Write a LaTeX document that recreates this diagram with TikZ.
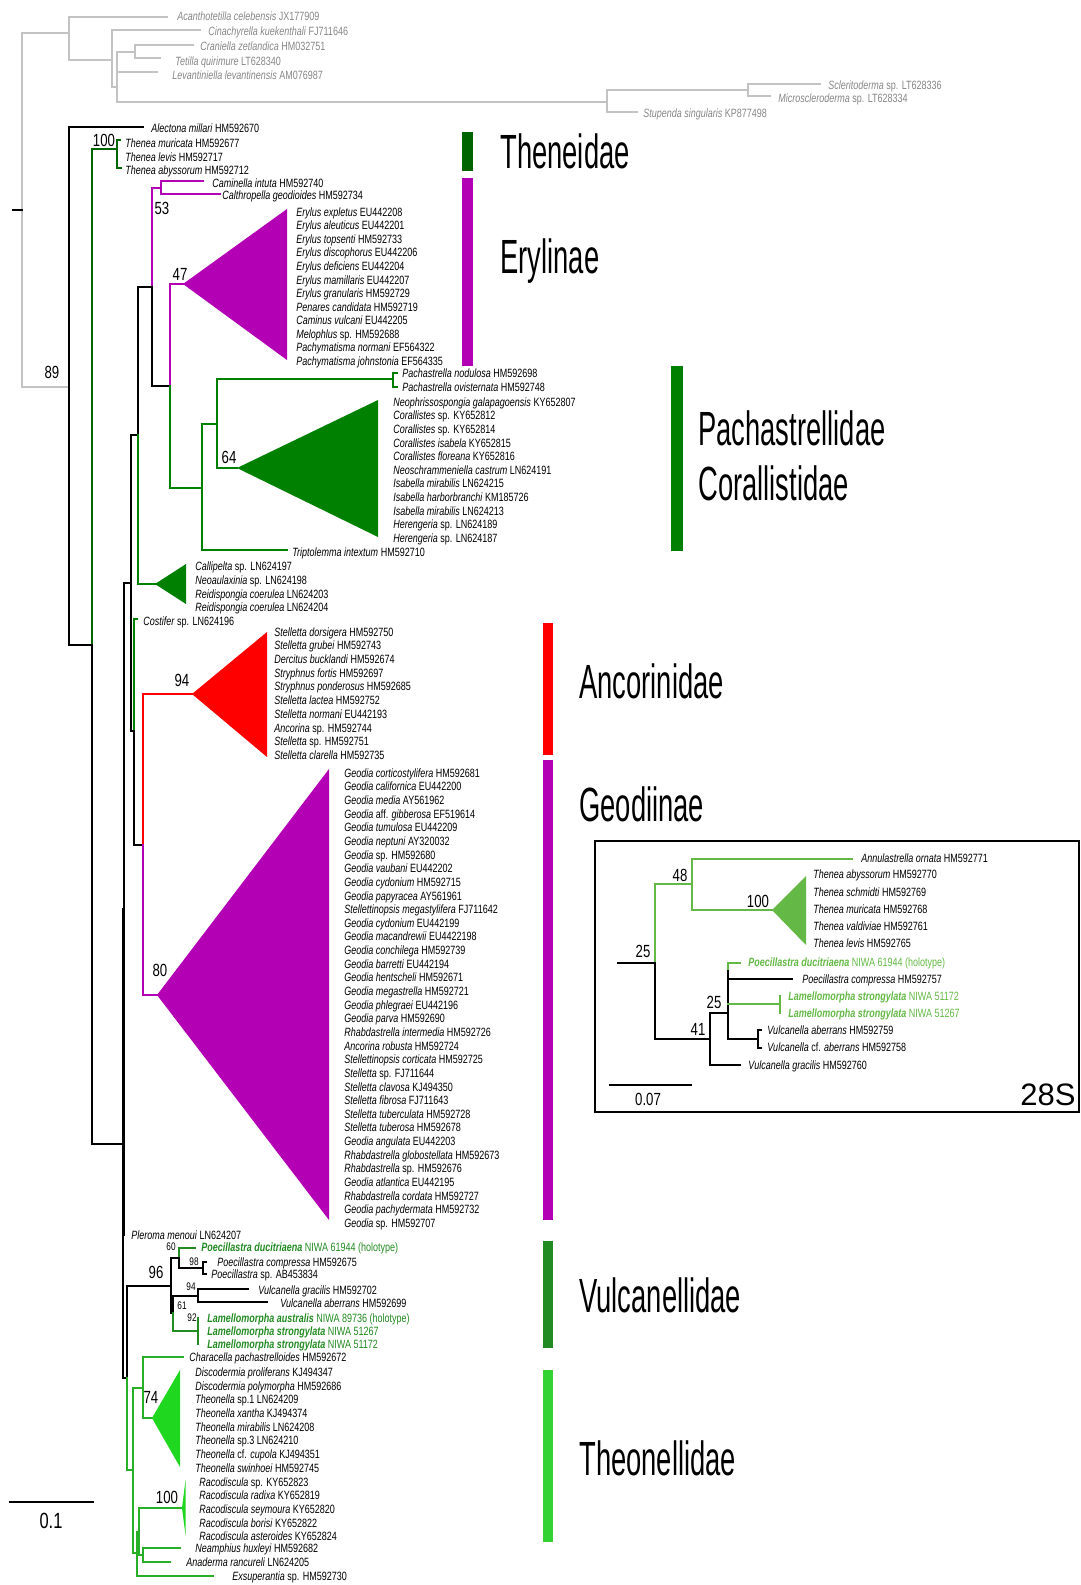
\documentclass[tikz,border=0pt]{standalone}
\usepackage{fontspec}
\setmainfont{Liberation Sans}[FakeStretch=0.75]
\newfontfamily\grpfont{Liberation Sans}[FakeStretch=0.57]
\newfontfamily\plainfont{Liberation Sans}
\definecolor{dkgreen}{RGB}{0,100,0}
\definecolor{pgreen}{RGB}{0,128,0}
\definecolor{vgreen}{RGB}{34,139,34}
\definecolor{tgreen}{RGB}{40,175,40}
\definecolor{tfill}{RGB}{30,215,30}
\definecolor{tbar}{RGB}{50,210,50}
\definecolor{mag}{RGB}{180,0,180}
\definecolor{igreen}{RGB}{100,185,70}
\definecolor{ogray}{RGB}{195,195,195}
\definecolor{otext}{RGB}{135,135,135}
\newcommand\tipfont{\fontsize{6}{7}\selectfont}
\newcommand\bsfont{\fontsize{8.8}{10}\selectfont}
\newcommand\sbsfont{\fontsize{5.5}{6}\selectfont}
\newcommand\grpf{\grpfont\fontsize{24}{26}\selectfont}
\tikzset{
  br/.style={line width=0.7pt, line cap=rect},
  ogline/.style={line width=0.7pt, ogray, line cap=rect},
  tip/.style={anchor=west, inner sep=0pt, font=\tipfont, text height=4.3pt, text depth=0pt},
  otip/.style={tip, text=otext},
  bs/.style={inner sep=0pt, font=\bsfont, text height=6.3pt, text depth=0pt},
  sbs/.style={inner sep=0pt, font=\sbsfont, text height=3.9pt, text depth=0pt},
  grp/.style={anchor=west, inner sep=0pt, font=\grpf, text height=17.2pt, text depth=0pt},
}
\begin{document}
\begin{tikzpicture}[x=0.5pt,y=-0.5pt]
\useasboundingbox (0,0) rectangle (1081,1585);
\fill[white] (0,0) rectangle (1081,1585);

% ---------------- outgroup (gray)
\begin{scope}[ogline]
\draw (22,33) -- (22,387);
\draw (22,33) -- (69,33);
\draw (22,387) -- (69,387);
\draw (69,17) -- (69,60);
\draw (69,17) -- (167,17);
\draw (69,60) -- (112,60);
\draw (112,30) -- (112,87);
\draw (112,30) -- (200,30);
\draw (112,87) -- (117,87);
\draw (117,52) -- (117,102);
\draw (117,52) -- (135,52);
\draw (135,45) -- (135,58);
\draw (135,45) -- (193,45);
\draw (135,58) -- (160,58);
\draw (117,72) -- (157,72);
\draw (117,102) -- (607,102);
\draw (607,90) -- (607,112);
\draw (607,90) -- (748,90);
\draw (748,84) -- (748,96);
\draw (748,84) -- (820,84);
\draw (748,96) -- (770,96);
\draw (607,112) -- (637,112);
\end{scope}
\node[otip] (o1) at (177,16) {\textit{Acanthotetilla celebensis} JX177909};
\node[otip] (o2) at (208,31) {\textit{Cinachyrella kuekenthali} FJ711646};
\node[otip] (o3) at (200,46) {\textit{Craniella zetlandica} HM032751};
\node[otip] (o4) at (175,61) {\textit{Tetilla quirimure} LT628340};
\node[otip] (o5) at (172,75) {\textit{Levantiniella levantinensis} AM076987};
\node[otip] (o6) at (828,85) {\textit{Scleritoderma} sp. LT628336};
\node[otip] (o7) at (778,98) {\textit{Microscleroderma} sp. LT628334};
\node[otip] (o8) at (643,113) {\textit{Stupenda singularis} KP877498};

% root tick
\draw[br] (13,210) -- (22,210);
\node[bs] (b89) at (52,372) {89};

% ---------------- main backbone
\draw[br] (69,127) -- (69,645);
\draw[br] (69,127) -- (143,127);
\node[tip] (alec) at (151,128) {\textit{Alectona millari} HM592670};
\draw[br] (69,645) -- (92,645);
\draw[br,dkgreen] (92,149) -- (92,645);
\draw[br] (92,645) -- (92,1144);
% Theneidae
\draw[br,dkgreen] (92,149) -- (117,149);
\draw[br,dkgreen] (117,140) -- (117,168);
\draw[br,dkgreen] (117,140) -- (120,140);
\draw[br,dkgreen] (117,168) -- (121,168);
\node[bs] (b100a) at (104,140) {100};
\node[tip] at (125,143) {\textit{Thenea muricata} HM592677};
\node[tip] at (125,157) {\textit{Thenea levis} HM592717};
\node[tip] at (125,170) {\textit{Thenea abyssorum} HM592712};

% L, U, Q
\draw[br] (92,1144) -- (123,1144);
\draw[br] (123,909) -- (123,1378);
\draw[br] (124,583) -- (124,1235);
\draw[br] (124,583) -- (131,583);
\draw[br] (131,435) -- (131,731);
% K
\draw[br] (131,435) -- (138,435);
\draw[br] (138,287) -- (138,435);
\draw[br,pgreen] (138,435) -- (138,584);
\draw[br,pgreen] (138,584) -- (155,584);
\fill[pgreen] (155,584) -- (186,564) -- (186,604) -- cycle;
\node[tip] at (195,566) {\textit{Callipelta} sp. LN624197};
\node[tip] at (195,580) {\textit{Neoaulaxinia} sp. LN624198};
\node[tip] at (195,594) {\textit{Reidispongia coerulea} LN624203};
\node[tip] at (195,607) {\textit{Reidispongia coerulea} LN624204};
% P
\draw[br] (138,287) -- (152,287);
\draw[br,mag] (152,188) -- (152,287);
\draw[br] (152,287) -- (152,386);
% O
\draw[br,mag] (152,188) -- (161,188);
\draw[br,mag] (161,181) -- (161,194);
\draw[br,mag] (161,181) -- (203,181);
\draw[br,mag] (161,194) -- (220,194);
\node[tip] at (212,183) {\textit{Caminella intuta} HM592740};
\node[tip] at (222,195) {\textit{Calthropella geodioides} HM592734};
\node[bs] (b53) at (162,208) {53};
% N
\draw[br] (152,386) -- (170,386);
\draw[br,mag] (170,284) -- (170,386);
\draw[br,pgreen] (170,386) -- (170,488);
% Erylinae
\draw[br,mag] (170,284) -- (183,284);
\fill[mag] (183,284) -- (287,209) -- (287,360) -- cycle;
\node[bs] (b47) at (180,274) {47};
\foreach \lab [count=\i from 0] in {
 {\textit{Erylus expletus} EU442208},
 {\textit{Erylus aleuticus} EU442201},
 {\textit{Erylus topsenti} HM592733},
 {\textit{Erylus discophorus} EU442206},
 {\textit{Erylus deficiens} EU442204},
 {\textit{Erylus mamillaris} EU442207},
 {\textit{Erylus granularis} HM592729},
 {\textit{Penares candidata} HM592719},
 {\textit{Caminus vulcani} EU442205},
 {\textit{Melophlus} sp. HM592688},
 {\textit{Pachymatisma normani} EF564322},
 {\textit{Pachymatisma johnstonia} EF564335}}
 {\node[tip] (er\i) at (296,{212+13.55*\i}) {\lab};}
% X, Y
\draw[br,pgreen] (170,488) -- (202,488);
\draw[br,pgreen] (202,424) -- (202,550);
\draw[br,pgreen] (202,550) -- (287,550);
\node[tip] at (292,552) {\textit{Triptolemma intextum} HM592710};
\draw[br,pgreen] (202,424) -- (217,424);
\draw[br,pgreen] (217,379) -- (217,468);
\draw[br,pgreen] (217,379) -- (393,379);
\draw[br,pgreen] (393,373) -- (393,387);
\draw[br,pgreen] (393,373) -- (397,373);
\draw[br,pgreen] (393,387) -- (397,387);
\node[tip] at (402,373) {\textit{Pachastrella nodulosa} HM592698};
\node[tip] at (402,387) {\textit{Pachastrella ovisternata} HM592748};
\draw[br,pgreen] (217,468) -- (237,468);
\fill[pgreen] (237,468) -- (378,400) -- (378,537) -- cycle;
\node[bs] (b64) at (229,457) {64};
\foreach \lab [count=\i from 0] in {
 {\textit{Neophrissospongia galapagoensis} KY652807},
 {\textit{Corallistes} sp. KY652812},
 {\textit{Corallistes} sp. KY652814},
 {\textit{Corallistes isabela} KY652815},
 {\textit{Corallistes floreana} KY652816},
 {\textit{Neoschrammeniella castrum} LN624191},
 {\textit{Isabella mirabilis} LN624215},
 {\textit{Isabella harborbranchi} KM185726},
 {\textit{Isabella mirabilis} LN624213},
 {\textit{Herengeria} sp. LN624189},
 {\textit{Herengeria} sp. LN624187}}
 {\node[tip] (co\i) at (393,{402+13.6*\i}) {\lab};}

% Q2 + Costifer
\draw[br] (131,731) -- (134,731);
\draw[br,pgreen] (134,619) -- (134,731);
\draw[br] (134,731) -- (134,845);
\draw[br,pgreen] (134,619) -- (137,619);
\node[tip] (cost) at (143,621) {\textit{Costifer} sp. LN624196};
% R
\draw[br] (134,845) -- (143,845);
\draw[br,red] (143,694) -- (143,845);
\draw[br,mag] (143,845) -- (143,995);
\draw[br,red] (143,694) -- (192,694);
\fill[red] (192,694) -- (267,632) -- (267,757) -- cycle;
\node[bs] (b94) at (182,680) {94};
\foreach \lab [count=\i from 0] in {
 {\textit{Stelletta dorsigera} HM592750},
 {\textit{Stelletta grubei} HM592743},
 {\textit{Dercitus bucklandi} HM592674},
 {\textit{Stryphnus fortis} HM592697},
 {\textit{Stryphnus ponderosus} HM592685},
 {\textit{Stelletta lactea} HM592752},
 {\textit{Stelletta normani} EU442193},
 {\textit{Ancorina} sp. HM592744},
 {\textit{Stelletta} sp. HM592751},
 {\textit{Stelletta clarella} HM592735}}
 {\node[tip] (an\i) at (274,{632+13.67*\i}) {\lab};}
\draw[br,mag] (143,995) -- (157,995);
\fill[mag] (157,995) -- (329,769) -- (329,1220) -- cycle;
\node[bs] (b80) at (160,970) {80};
\foreach \lab [count=\i from 0] in {
 {\textit{Geodia corticostylifera} HM592681},
 {\textit{Geodia californica} EU442200},
 {\textit{Geodia media} AY561962},
 {\textit{Geodia} aff. \textit{gibberosa} EF519614},
 {\textit{Geodia tumulosa} EU442209},
 {\textit{Geodia neptuni} AY320032},
 {\textit{Geodia} sp. HM592680},
 {\textit{Geodia vaubani} EU442202},
 {\textit{Geodia cydonium} HM592715},
 {\textit{Geodia papyracea} AY561961},
 {\textit{Stellettinopsis megastylifera} FJ711642},
 {\textit{Geodia cydonium} EU442199},
 {\textit{Geodia macandrewii} EU4422198},
 {\textit{Geodia conchilega} HM592739},
 {\textit{Geodia barretti} EU442194},
 {\textit{Geodia hentscheli} HM592671},
 {\textit{Geodia megastrella} HM592721},
 {\textit{Geodia phlegraei} EU442196},
 {\textit{Geodia parva} HM592690},
 {\textit{Rhabdastrella intermedia} HM592726},
 {\textit{Ancorina robusta} HM592724},
 {\textit{Stellettinopsis corticata} HM592725},
 {\textit{Stelletta} sp. FJ711644},
 {\textit{Stelletta clavosa} KJ494350},
 {\textit{Stelletta fibrosa} FJ711643},
 {\textit{Stelletta tuberculata} HM592728},
 {\textit{Stelletta tuberosa} HM592678},
 {\textit{Geodia angulata} EU442203},
 {\textit{Rhabdastrella globostellata} HM592673},
 {\textit{Rhabdastrella} sp. HM592676},
 {\textit{Geodia atlantica} EU442195},
 {\textit{Rhabdastrella cordata} HM592727},
 {\textit{Geodia pachydermata} HM592732},
 {\textit{Geodia} sp. HM592707}}
 {\node[tip] (ge\i) at (344,{773+13.64*\i}) {\lab};}

% Pleroma
\node[tip] (pler) at (131,1235) {\textit{Pleroma menoui} LN624207};

% T, Vulcanellidae
\draw[br] (123,1378) -- (127,1378);
\draw[br] (127,1286) -- (127,1378);
\draw[br,tgreen] (127,1378) -- (127,1470);
\draw[br] (127,1286) -- (171,1286);
\node[bs] (b96) at (156,1272) {96};
\draw[br] (171,1258) -- (171,1313);
\draw[br] (171,1258) -- (179,1258);
\draw[br,vgreen] (179,1248) -- (179,1258);
\draw[br] (179,1258) -- (179,1268);
\draw[br,vgreen] (179,1248) -- (195,1248);
\node[sbs] (b60) at (171,1247) {60};
\draw[br] (179,1268) -- (203,1268);
\draw[br] (203,1262) -- (203,1274);
\draw[br] (203,1262) -- (206,1262);
\draw[br] (203,1274) -- (206,1274);
\node[sbs] (b98) at (194,1262) {98};
\draw[br] (171,1313) -- (173,1313);
\draw[br] (173,1296) -- (173,1313);
\draw[br,vgreen] (173,1313) -- (173,1331);
\draw[br] (173,1296) -- (198,1296);
\draw[br] (198,1289) -- (198,1302);
\draw[br] (198,1289) -- (248,1289);
\draw[br] (198,1302) -- (267,1302);
\node[sbs] (b94s) at (191,1287) {94};
\node[sbs] (b61) at (182,1306) {61};
\draw[br,vgreen] (173,1331) -- (198,1331);
\draw[br,vgreen] (198,1318) -- (198,1344);
\node[sbs] (b92) at (192,1318) {92};
\node[tip,text=vgreen] at (201,1247) {\textbf{\textit{Poecillastra ducitriaena}} NIWA 61944 (holotype)};
\node[tip] at (217,1262) {\textit{Poecillastra compressa} HM592675};
\node[tip] at (211,1274) {\textit{Poecillastra} sp. AB453834};
\node[tip] at (258,1290) {\textit{Vulcanella gracilis} HM592702};
\node[tip] at (280,1303) {\textit{Vulcanella aberrans} HM592699};
\node[tip,text=vgreen] at (207,1318) {\textbf{\textit{Lamellomorpha australis}} NIWA 89736 (holotype)};
\node[tip,text=vgreen] at (207,1331) {\textbf{\textit{Lamellomorpha strongylata}} NIWA 51267};
\node[tip,text=vgreen] at (207,1344) {\textbf{\textit{Lamellomorpha strongylata}} NIWA 51172};

% Theonellidae
\begin{scope}[tgreen]
\draw[br] (127,1470) -- (133,1470);
\draw[br] (133,1388) -- (133,1553);
\draw[br] (133,1388) -- (143,1388);
\draw[br] (143,1357) -- (143,1418);
\draw[br] (143,1357) -- (183,1357);
\draw[br] (143,1418) -- (152,1418);
\draw[br] (133,1553) -- (137,1553);
\draw[br] (137,1532) -- (137,1576);
\draw[br] (137,1576) -- (213,1576);
\draw[br] (137,1532) -- (139,1532);
\draw[br] (139,1508) -- (139,1555);
\draw[br] (139,1508) -- (182,1508);
\draw[br] (139,1555) -- (143,1555);
\draw[br] (143,1548) -- (143,1562);
\draw[br] (143,1548) -- (180,1548);
\draw[br] (143,1562) -- (170,1562);
\end{scope}
\fill[tfill] (152,1418) -- (180,1370) -- (180,1467) -- cycle;
\fill[tfill] (182,1508) -- (185.5,1480) -- (185.5,1535) -- cycle;
\node[bs] (b74) at (151,1397) {74};
\node[bs] (b100b) at (167,1497) {100};
\node[tip] at (189,1357) {\textit{Characella pachastrelloides} HM592672};
\foreach \lab [count=\i from 0] in {
 {\textit{Discodermia proliferans} KJ494347},
 {\textit{Discodermia polymorpha} HM592686},
 {\textit{Theonella} sp.1 LN624209},
 {\textit{Theonella xantha} KJ494374},
 {\textit{Theonella mirabilis} LN624208},
 {\textit{Theonella} sp.3 LN624210},
 {\textit{Theonella} cf. \textit{cupola} KJ494351},
 {\textit{Theonella swinhoei} HM592745}}
 {\node[tip] (th\i) at (195,{1372+13.7*\i}) {\lab};}
\node[tip] at (199,1482) {\textit{Racodiscula} sp. KY652823};
\node[tip] at (199,1495) {\textit{Racodiscula radixa} KY652819};
\node[tip] at (199,1509) {\textit{Racodiscula seymoura} KY652820};
\node[tip] at (199,1523) {\textit{Racodiscula borisi} KY652822};
\node[tip] at (199,1536) {\textit{Racodiscula asteroides} KY652824};
\node[tip] at (195,1548) {\textit{Neamphius huxleyi} HM592682};
\node[tip] at (186,1562) {\textit{Anaderma rancureli} LN624205};
\node[tip] at (232,1576) {\textit{Exsuperantia} sp. HM592730};

% scale bar
\draw[br] (10,1502) -- (93,1502);
\node[inner sep=0pt, font=\fontsize{11}{12}\selectfont, text height=7.9pt, text depth=0pt] (sc1) at (51,1521) {0.1};

% ---------------- clade bars and names
\fill[dkgreen] (462,132) rectangle (473,171);
\fill[mag] (462,178) rectangle (473,366);
\fill[pgreen] (671,366) rectangle (683,551);
\fill[red] (543,623) rectangle (553,755);
\fill[mag] (543,760) rectangle (553,1220);
\fill[vgreen] (543,1241) rectangle (553,1348);
\fill[tbar] (543,1370) rectangle (553,1542);
\node[grp] (g1) at (500,151) {Theneidae};
\node[grp] (g2) at (500,256) {Erylinae};
\node[grp] (g3) at (698,428) {Pachastrellidae};
\node[grp] (g4) at (698,483) {Corallistidae};
\node[grp] (g5) at (579,681) {Ancorinidae};
\node[grp] (g6) at (579,804) {Geodiinae};
\node[grp] (g7) at (579,1295) {Vulcanellidae};
\node[grp] (g8) at (579,1458) {Theonellidae};

% ---------------- inset 28S
\draw[line width=0.6pt] (595,841) rectangle (1079,1112);
\draw[br] (618,963) -- (655,963);
\node[bs] (i25a) at (643,951) {25};
\draw[br,igreen] (655,884) -- (655,963);
\draw[br] (655,963) -- (655,1039);
\draw[br,igreen] (655,884) -- (692,884);
\node[bs] (i48) at (680,875) {48};
\draw[br,igreen] (692,859) -- (692,910);
\draw[br,igreen] (692,859) -- (852,859);
\draw[br,igreen] (692,910) -- (772,910);
\fill[igreen] (772,910) -- (806,876) -- (806,945) -- cycle;
\node[bs] (i100) at (758,901) {100};
\draw[br] (655,1039) -- (710,1039);
\node[bs] (i41) at (698,1029) {41};
\draw[br] (710,1013) -- (710,1065);
\draw[br] (710,1065) -- (740,1065);
\draw[br] (710,1013) -- (728,1013);
\node[bs] (i25b) at (714,1002) {25};
\draw[br,igreen] (728,963) -- (728,971);
\draw[br] (728,971) -- (728,1039);
\draw[br,igreen] (728,963) -- (740,963);
\draw[br] (728,979) -- (792,979);
\draw[br,igreen] (728,1004) -- (780,1004);
\draw[br,igreen] (780,996) -- (780,1013);
\draw[br] (728,1039) -- (758,1039);
\draw[br] (758,1030) -- (758,1048);
\draw[br] (758,1030) -- (761,1030);
\draw[br] (758,1048) -- (761,1048);
\node[tip] at (861,858) {\textit{Annulastrella ornata} HM592771};
\node[tip] at (813,874) {\textit{Thenea abyssorum} HM592770};
\node[tip] at (813,892) {\textit{Thenea schmidti} HM592769};
\node[tip] at (813,909) {\textit{Thenea muricata} HM592768};
\node[tip] at (813,926) {\textit{Thenea valdiviae} HM592761};
\node[tip] at (813,943) {\textit{Thenea levis} HM592765};
\node[tip,text=igreen] at (748,962) {\textbf{\textit{Poecillastra ducitriaena}} NIWA 61944 (holotype)};
\node[tip] at (802,979) {\textit{Poecillastra compressa} HM592757};
\node[tip,text=igreen] at (788,996) {\textbf{\textit{Lamellomorpha strongylata}} NIWA 51172};
\node[tip,text=igreen] at (788,1013) {\textbf{\textit{Lamellomorpha strongylata}} NIWA 51267};
\node[tip] at (767,1030) {\textit{Vulcanella aberrans} HM592759};
\node[tip] at (767,1047) {\textit{Vulcanella} cf. \textit{aberrans} HM592758};
\node[tip] at (748,1065) {\textit{Vulcanella gracilis} HM592760};
\draw[br] (610,1085) -- (691,1085);
\node[bs] (sc2) at (648,1099) {0.07};
\node[anchor=east, inner sep=0pt, font=\plainfont\fontsize{15.5}{17}\selectfont, text height=11.1pt, text depth=0pt] (t28) at (1076,1094) {28S};
\end{tikzpicture}
\end{document}
